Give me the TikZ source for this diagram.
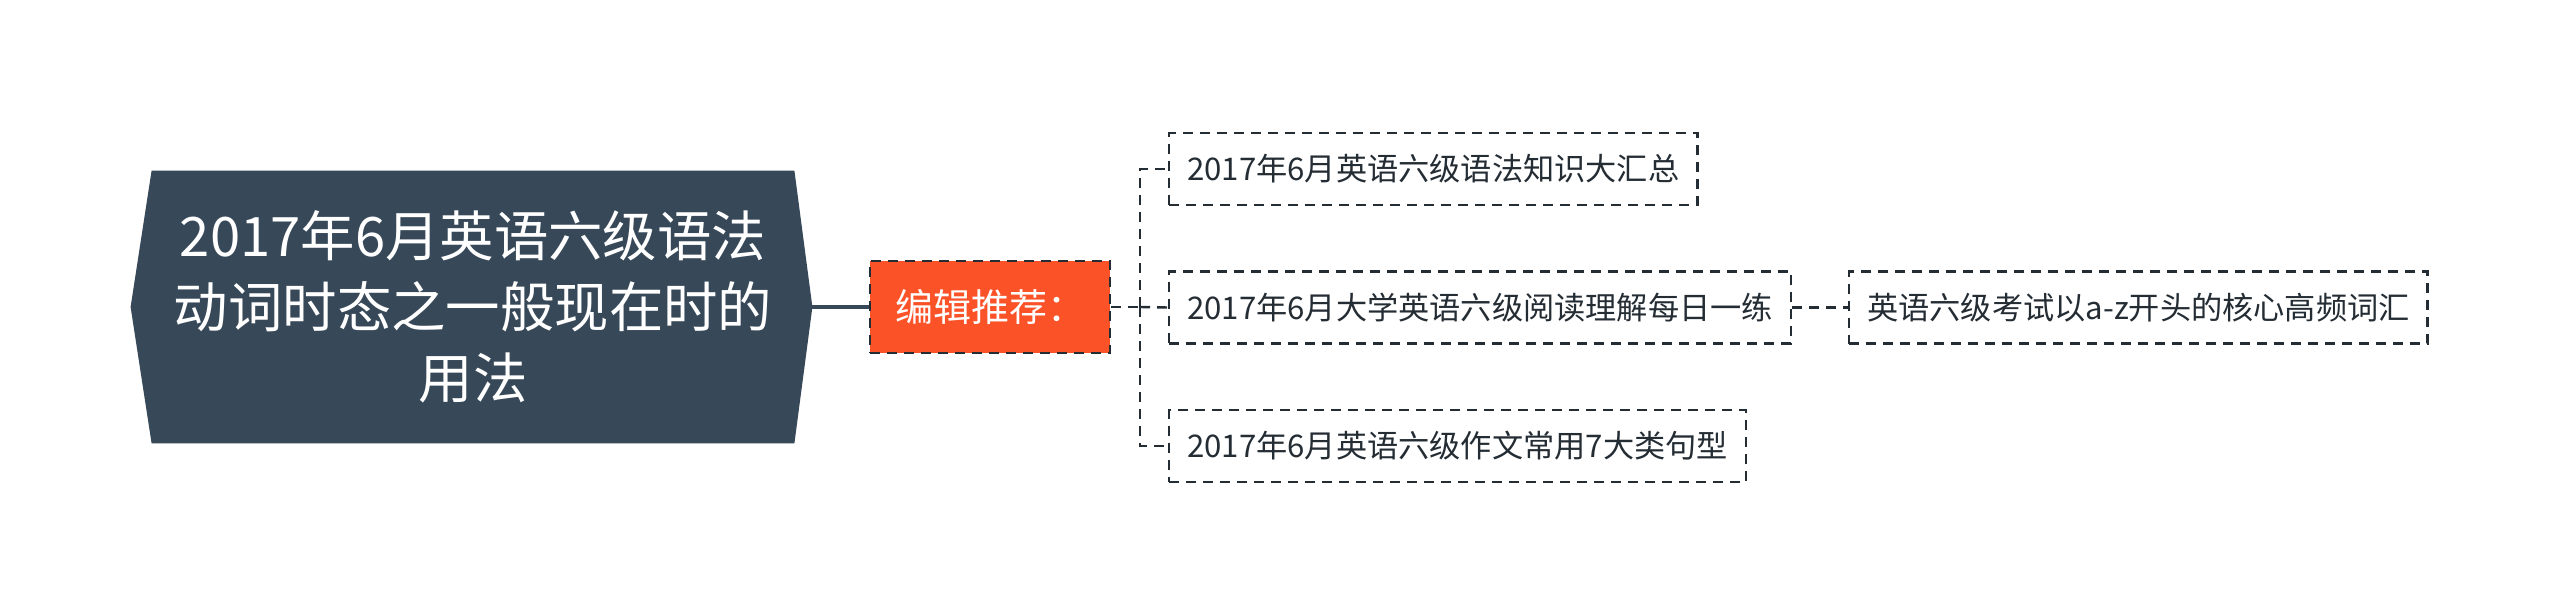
\documentclass[tikz,border=0pt]{standalone}
\usepackage{fontspec}
\setmainfont{Noto Sans CJK SC}
\usetikzlibrary{backgrounds,calc}
\definecolor{slate}{RGB}{55,72,88}
\definecolor{hot}{RGB}{252,82,40}
\definecolor{ink}{RGB}{36,44,52}
\tikzset{
  leaf/.style={draw=ink, line width=1.2pt, dash pattern=on 5pt off 3.5pt, fill=white,
    anchor=west, minimum height=36pt, inner xsep=9pt, inner ysep=0pt,
    font=\fontsize{15.6pt}{19pt}\selectfont, text=ink},
  conn/.style={draw=ink, line width=1.2pt, dash pattern=on 5pt off 3.5pt},
}
\begin{document}
\begin{tikzpicture}[x=0.5pt,y=-0.5pt]
\useasboundingbox (0,0) rectangle (2560,615);
% central node
\node[minimum width=321pt, minimum height=136pt, inner sep=0pt, text=white,
      align=center, font=\fontsize{27.2pt}{35.5pt}\selectfont] (root) at (473,307)
  {2017年6月英语六级语法\\动词时态之一般现在时的\\用法};
\begin{scope}[on background layer]
  \fill[slate] (root.north west) -- (root.north east) -- ($(root.east)+(18,0)$)
    -- (root.south east) -- (root.south west) -- ($(root.west)+(-21,0)$) -- cycle;
\end{scope}
% editor node
\node[fill=hot, draw=ink, line width=1.2pt, dash pattern=on 5pt off 3.5pt,
      minimum width=120pt, minimum height=46pt, inner sep=0pt, text=white,
      font=\fontsize{19pt}{23pt}\selectfont] (ed) at (990,307) {编辑推荐：};
% leaves
\node[leaf] (c1) at (1168,169) {2017年6月英语六级语法知识大汇总};
\node[leaf] (c2) at (1168,307.5) {2017年6月大学英语六级阅读理解每日一练};
\node[leaf] (c3) at (1168,446) {2017年6月英语六级作文常用7大类句型};
\node[leaf] (g1) at (1848,307.5) {英语六级考试以a-z开头的核心高频词汇};
% connectors
\draw[draw=slate, line width=1.6pt] ($(root.east)+(18,0)$) -- (ed.west);
\coordinate (trunk) at (1140,307);
\draw[conn] (ed.east) -- (trunk);
\draw[conn] (trunk) |- (c1.west);
\draw[conn] (trunk) -- (c2.west);
\draw[conn] (trunk) |- (c3.west);
\draw[conn] (c2.east) -- (g1.west);
\end{tikzpicture}
\end{document}
